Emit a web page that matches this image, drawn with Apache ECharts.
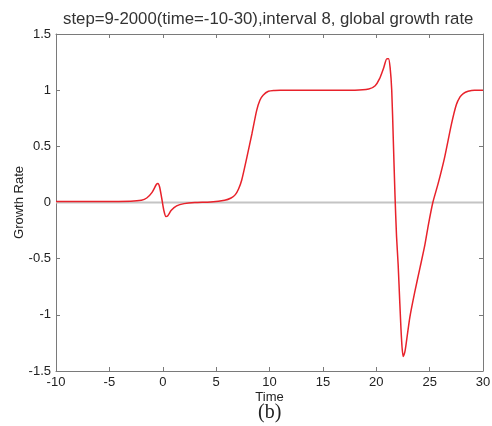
<!DOCTYPE html>
<html>
<head>
<meta charset="utf-8">
<script src="https://cdn.jsdelivr.net/npm/echarts@6/dist/echarts.min.js"></script>
<style>html,body{margin:0;padding:0;background:#fff;}#c{width:492px;height:426px;}</style>
</head>
<body>
<div id="c"></div>
<script>
var titleText = 'step=9-2000(time=-10-30),interval 8, global growth rate';
var xName = 'Time';
var yName = 'Growth Rate';
var panelLabel = '(b)';
var timeValues = [-10, -6, -3, -2, -1.5, -1, -0.6, -0.45, -0.3, -0.1, 0.1, 0.3, 0.45, 0.8, 1.3, 2, 3, 4.5, 5.8, 6.4, 6.8, 7.1, 7.4, 7.9, 8.35, 8.8, 9.1, 9.4, 9.9, 10.5, 11, 15, 18, 19.3, 19.9, 20.3, 20.7, 21.0, 21.15, 21.3, 21.45, 21.6, 21.75, 21.9, 22.05, 22.21, 22.37, 22.52, 22.68, 22.84, 23.15, 23.6, 24.1, 24.55, 24.9, 25.3, 25.8, 26.4, 27.05, 27.5, 27.85, 28.15, 28.6, 29.2, 30];
var growthValues = [0.01, 0.01, 0.012, 0.02, 0.04, 0.09, 0.16, 0.17, 0.14, 0.04, -0.07, -0.125, -0.12, -0.07, -0.03, -0.01, 0, 0.005, 0.02, 0.04, 0.07, 0.12, 0.2, 0.41, 0.61, 0.82, 0.91, 0.955, 0.99, 0.998, 1.0, 1.0, 1.0, 1.01, 1.04, 1.1, 1.2, 1.28, 1.28, 1.2, 1.0, 0.55, 0.08, -0.3, -0.55, -0.9, -1.22, -1.37, -1.33, -1.23, -1.02, -0.8, -0.58, -0.38, -0.19, 0.0, 0.17, 0.4, 0.7, 0.87, 0.94, 0.97, 0.99, 1.0, 1.0];
var zeroTimes = [-10, 30];
var zeroValues = [0, 0];

var curve = timeValues.map(function (t, i) { return [t, growthValues[i]]; });
var zero = zeroTimes.map(function (t, i) { return [t, zeroValues[i]]; });

var chart = echarts.init(document.getElementById('c'));
var axisLineStyle = { color: '#7a7a7a', width: 1 };
var tickStyle = { show: true, inside: true, length: 4, lineStyle: { color: '#7a7a7a' } };
var labelStyle = { color: '#222', fontFamily: 'Arial, Liberation Sans', fontSize: 13 };
chart.setOption({
  animation: false,
  title: {
    text: titleText, left: 58, top: 6,
    textStyle: { fontFamily: 'Arial, Liberation Sans', fontSize: 16.8, fontWeight: 'normal', color: '#333' }
  },
  grid: { left: 56, right: 9, top: 34, bottom: 55, outerBoundsMode: 'none', containLabel: false },
  xAxis: [{
    type: 'value', min: -10, max: 30, interval: 5, position: 'bottom',
    name: xName, nameLocation: 'middle', nameGap: 20, nameMoveOverlap: false,
    nameTextStyle: { color: '#222', fontFamily: 'Arial, Liberation Sans', fontSize: 13 },
    axisLine: { show: true, onZero: false, lineStyle: axisLineStyle },
    axisTick: tickStyle, axisLabel: Object.assign({ margin: 5 }, labelStyle),
    splitLine: { show: false }
  }, {
    type: 'value', min: -10, max: 30, interval: 5, position: 'top',
    axisLine: { show: true, onZero: false, lineStyle: axisLineStyle },
    axisTick: tickStyle, axisLabel: { show: false }, splitLine: { show: false }
  }],
  yAxis: [{
    type: 'value', min: -1.5, max: 1.5, interval: 0.5, position: 'left',
    name: yName, nameLocation: 'middle', nameGap: 30, nameMoveOverlap: false,
    nameTextStyle: { color: '#222', fontFamily: 'Arial, Liberation Sans', fontSize: 13 },
    axisLine: { show: true, onZero: false, lineStyle: axisLineStyle },
    axisTick: tickStyle, axisLabel: Object.assign({ margin: 5 }, labelStyle),
    splitLine: { show: false }
  }, {
    type: 'value', min: -1.5, max: 1.5, interval: 0.5, position: 'right',
    axisLine: { show: true, onZero: false, lineStyle: axisLineStyle },
    axisTick: tickStyle, axisLabel: { show: false }, splitLine: { show: false }
  }],
  graphic: [{
    type: 'text', left: 258, top: 403,
    style: { text: panelLabel, fontFamily: 'Times New Roman, Liberation Serif', fontSize: 20, fill: '#222' }
  }],
  series: [{
    type: 'line', data: zero, symbol: 'none', silent: true,
    lineStyle: { color: '#c4c4c4', width: 2 }, z: 1
  }, {
    type: 'line', data: curve, symbol: 'none', smooth: 0.25,
    lineStyle: { color: '#e8222b', width: 1.5 }, z: 2
  }]
});
</script>
</body>
</html>
